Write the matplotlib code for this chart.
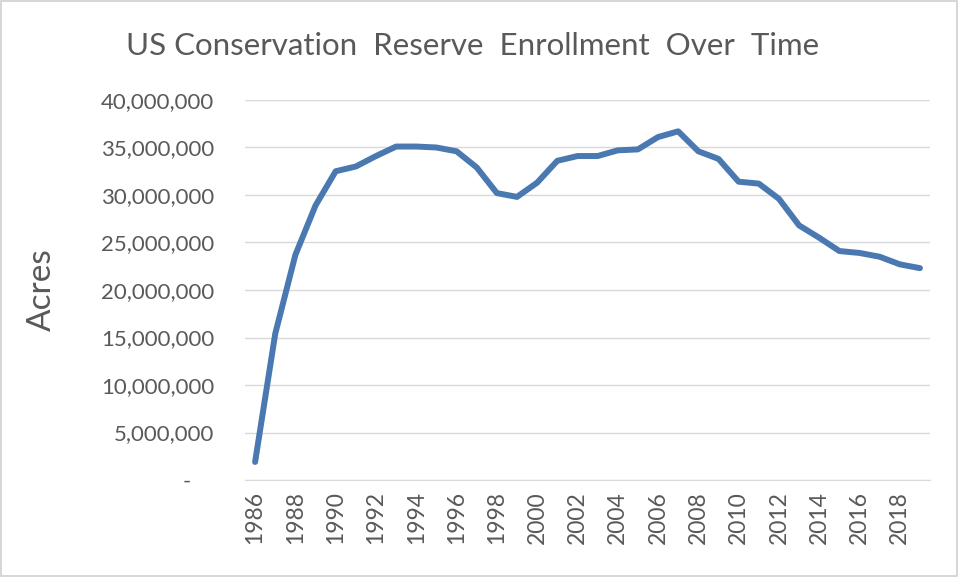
import matplotlib.pyplot as plt
from matplotlib.ticker import FuncFormatter
from matplotlib.patches import Rectangle

# enrollment in acres
years = list(range(1986, 2020))
acres = [1.9e6, 15.4e6, 23.7e6, 28.9e6, 32.5e6, 33.0e6, 34.1e6, 35.1e6, 35.1e6, 35.0e6,
         34.6e6, 32.9e6, 30.2e6, 29.8e6, 31.3e6, 33.6e6, 34.1e6, 34.1e6, 34.7e6, 34.8e6,
         36.1e6, 36.7e6, 34.6e6, 33.8e6, 31.4e6, 31.2e6, 29.6e6, 26.8e6, 25.5e6, 24.1e6,
         23.9e6, 23.5e6, 22.7e6, 22.3e6]
xticks = list(range(1986, 2019, 2))

grey = '#595959'
fig = plt.figure(figsize=(9.59, 5.77), dpi=100)
ax = fig.add_axes([0.2555, 0.1681, 0.7143, 0.6586])

ax.plot(years, acres, color='#4a78b0', linewidth=4.3, solid_capstyle='round', solid_joinstyle='round', zorder=3)

ax.set_xlim(1985.5, 2019.5)
ax.set_ylim(0, 40e6)
ax.set_yticks([i * 5e6 for i in range(9)])
ax.set_xticks(xticks)
ax.set_xticklabels([str(y) for y in xticks], rotation=90)

def fmt(v, pos):
    if v == 0:
        return '-    '
    return '{:,.0f}'.format(v)
ax.yaxis.set_major_formatter(FuncFormatter(fmt))

ax.grid(axis='y', color='#d9d9d9', linewidth=1.0, zorder=0)
for s in ['top', 'right', 'left']:
    ax.spines[s].set_visible(False)
ax.spines['bottom'].set_color('#d9d9d9')
ax.tick_params(axis='y', length=0, pad=22, labelsize=16, labelcolor=grey)
ax.tick_params(axis='x', length=0, pad=8, labelsize=16.5, labelcolor=grey)
for lab in ax.get_xticklabels() + ax.get_yticklabels():
    lab.set_fontfamily('Lato')

ax.set_ylabel('Acres', fontsize=24, color=grey, fontfamily='Lato')
ax.yaxis.set_label_coords(-0.275, 0.5)

fig.suptitle('US Conservation  Reserve  Enrollment  Over  Time', fontsize=22.5, color=grey,
             fontfamily='Lato', x=0.493, y=0.921, va='center')

fig.patches.append(Rectangle((0.001, 0.001), 0.997, 0.997, transform=fig.transFigure,
                             fill=False, edgecolor='#d0d0d0', linewidth=1.2))

plt.savefig('out.png', dpi=100)
